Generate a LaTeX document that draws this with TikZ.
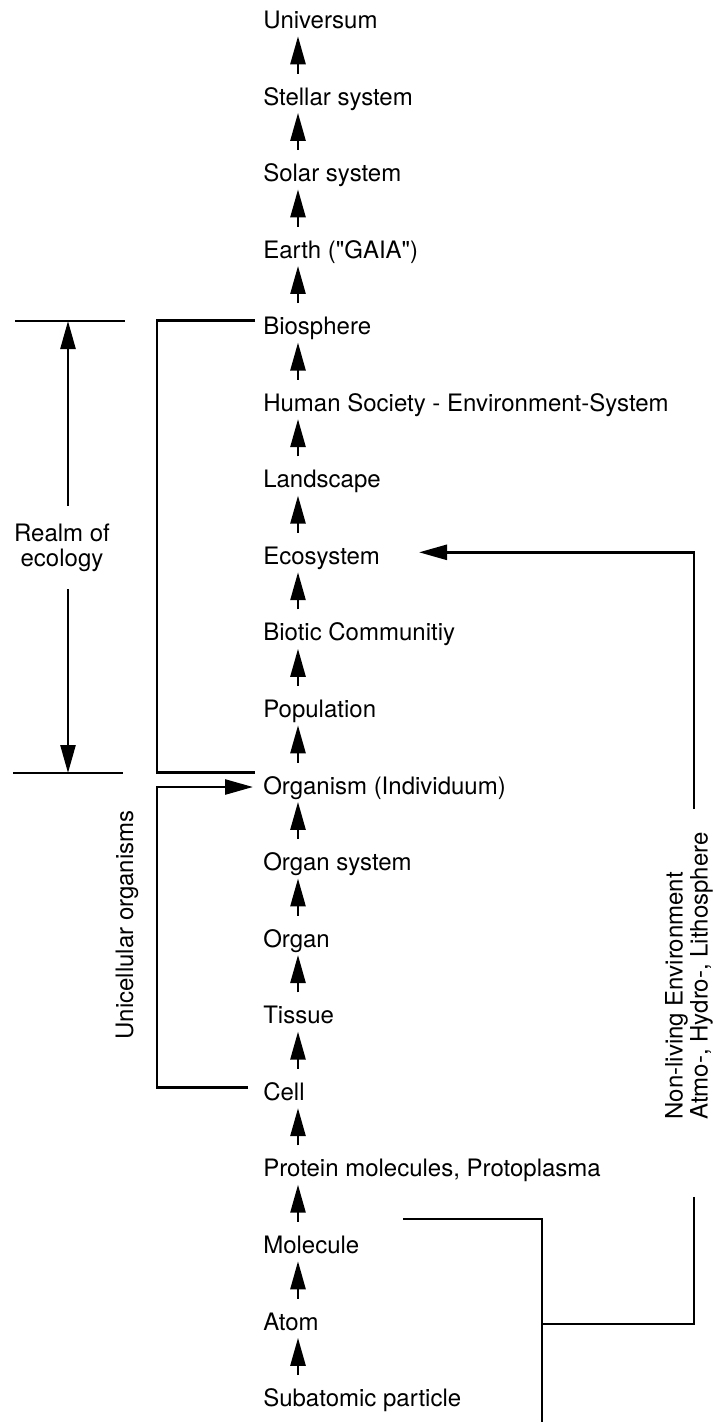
\documentclass[tikz,border=0pt]{standalone}
\usepackage{fontspec}
\setmainfont{TeX Gyre Heros}[Ligatures=TeXOff]
\usetikzlibrary{arrows.meta}

\tikzset{
  lvl/.style={anchor=base west,inner sep=0pt,text height=8.6pt,text depth=0pt},
  lbl/.style={inner sep=0pt,align=center},
  up/.style={-{Triangle[length=14pt,width=7.5pt]}},
  wire/.style={line width=1.3pt}
}

\begin{document}
\begin{tikzpicture}[x=0.5pt,y=-0.5pt,font=\fontsize{12}{12.5}\selectfont,wire]
  \useasboundingbox (0,0) rectangle (716,1424);

  % levels of organisation
  \foreach \lab [count=\i from 0] in {Universum,Stellar system,Solar system,
      Earth ("GAIA"),Biosphere,Human Society - Environment-System,Landscape,
      Ecosystem,Biotic Communitiy,Population,Organism (Individuum),
      Organ system,Organ,Tissue,Cell,{Protein molecules, Protoplasma},
      Molecule,Atom,Subatomic particle}
    \node[lvl] (n\i) at (262,{28.5+76.56*\i}) {\lab};

  \foreach \i [evaluate=\i as \j using int(\i+1)] in {0,...,17}
    \draw[up,shorten <=6.5pt,shorten >=3.25pt]
      ([xshift=18pt]n\j.north west) -- ([xshift=18pt]n\i.south west);

  % realm of ecology
  \coordinate (rtl) at (15,321);  \coordinate (rtr) at (125,321);
  \coordinate (rbl) at (13,773);  \coordinate (rbr) at (123,773);
  \coordinate (rtop) at (68,321); \coordinate (rbot) at (68,773);
  \draw (rtl) -- (rtr);
  \draw (rbl) -- (rbr);
  \node[lbl] (realm) at (62,548) {Realm of\\ecology};
  \draw[up] ([yshift=8.5pt]realm.north -| rtop) -- (rtop);
  \draw[up] ([yshift=-8pt]realm.south -| rbot) -- (rbot);

  % bracket and unicellular organisms
  \coordinate (brk) at (157,0);
  \draw ([xshift=-3.5pt,yshift=2.75pt]n4.west) -| ([yshift=6.5pt]n10.west -| brk)
    -- ([xshift=-3.5pt,yshift=6.5pt]n10.west);
  \draw[up] ([xshift=-7pt,yshift=2pt]n14.west) -| ([yshift=-0.75pt]n10.west -| brk)
    -- ([xshift=-4.5pt,yshift=-0.75pt]n10.west);
  \node[lbl,rotate=90] (uni) at (127,925) {Unicellular organisms};

  % non-living environment
  \coordinate (rx) at (694,0);
  \coordinate (jn) at (542,1324);
  \coordinate (jb) at (542,1422);
  \node[lbl,rotate=90,align=left] (env) at (689,976)
    {Non-living Environment\\Atmo-, Hydro-, Lithosphere};
  \draw[up] ([yshift=11pt]env.east -| rx) |- ([xshift=78.5pt,yshift=1.75pt]n7.west);
  \draw ([yshift=-38pt]env.west -| rx) |- (jn);
  \draw ([xshift=70.5pt,yshift=13pt]n16.west) -| (jb);
\end{tikzpicture}
\end{document}
